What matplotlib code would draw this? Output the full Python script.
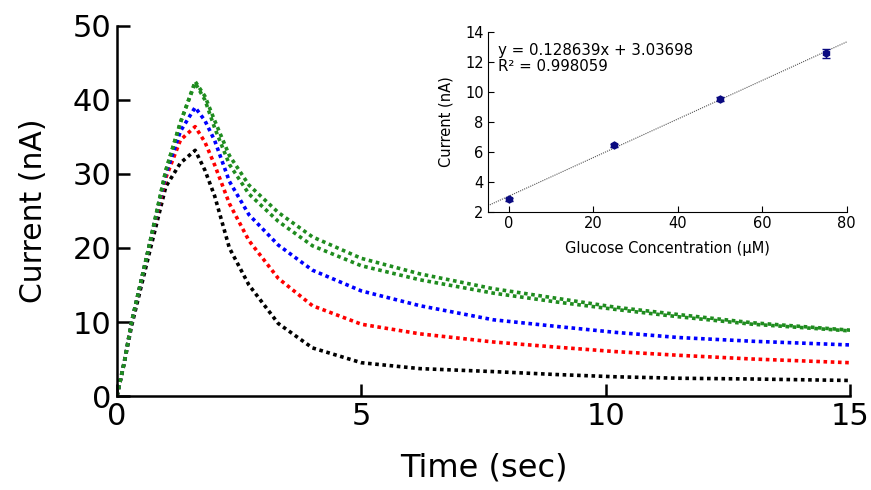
import numpy as np
import matplotlib.pyplot as plt

plt.rcParams['font.family'] = ['DejaVu Sans']

# Chronoamperometric traces (time in s, current in nA)
time_s = [0, 0.15, 0.3, 0.65, 1.0, 1.3, 1.6, 1.8, 2.0, 2.3, 2.7, 3.3,
          4.0, 5.0, 6.2, 7.7, 9.0, 10.2, 11.5, 13.0, 15.0]
black_0uM = [0, 4.5, 9.5, 19.0, 28.3, 31.5, 33.2, 30.5, 27.0, 20.0, 15.0, 9.8,
             6.5, 4.5, 3.7, 3.3, 2.9, 2.6, 2.4, 2.3, 2.1]
red_25uM = [0, 4.6, 10.0, 20.0, 29.5, 34.6, 36.4, 34.3, 31.2, 26.0, 21.0, 15.9,
            12.2, 9.7, 8.4, 7.3, 6.6, 6.0, 5.5, 5.0, 4.5]
blue_50uM = [0, 4.6, 10.0, 20.0, 30.0, 35.8, 39.0, 37.2, 34.5, 29.0, 24.5, 20.4,
             17.0, 14.2, 12.2, 10.3, 9.4, 8.6, 7.9, 7.4, 6.9]
green_75uM_a = [0, 4.6, 10.0, 20.0, 30.5, 37.0, 42.5, 40.5, 37.2, 32.5, 28.5, 24.8,
                21.5, 18.6, 16.5, 14.5, 13.2, 12.0, 11.0, 9.9, 8.9]
green_75uM_b = [0, 4.6, 10.0, 20.0, 30.5, 37.0, 42.3, 40.0, 36.2, 31.3, 27.3, 23.6,
                20.3, 17.6, 15.7, 13.9, 12.7, 11.7, 10.7, 9.7, 8.8]

# Calibration inset
conc_uM = [0, 25, 50, 75]
cal_current = [2.83, 6.43, 9.52, 12.56]
cal_err = [0.1, 0.1, 0.15, 0.3]
slope = 0.128639
intercept = 3.03698
r2 = 0.998059

fig = plt.figure(figsize=(8.71, 4.9), dpi=100)
ax = fig.add_axes([0.1343, 0.1918, 0.8417, 0.7552])

dot = (0, (1, 1))
lw = 2.6
ax.plot(time_s, black_0uM, color='black', linestyle=dot, lw=lw)
ax.plot(time_s, red_25uM, color='#ff0000', linestyle=dot, lw=lw)
ax.plot(time_s, blue_50uM, color='#0000ff', linestyle=dot, lw=lw)
ax.plot(time_s, green_75uM_a, color='#1f8c1f', linestyle=dot, lw=lw)
ax.plot(time_s, green_75uM_b, color='#1f8c1f', linestyle=dot, lw=lw)

ax.set_xlim(0, 15)
ax.set_ylim(0, 50)
ax.set_xticks([0, 5, 10, 15])
ax.set_yticks([0, 10, 20, 30, 40, 50])
ax.spines['top'].set_visible(False)
ax.spines['right'].set_visible(False)
for s in ['left', 'bottom']:
    ax.spines[s].set_linewidth(1.8)
ax.tick_params(direction='in', length=9, width=1.8, labelsize=22, pad=4)
ax.set_xlabel('Time (sec)', fontsize=23, labelpad=16)
ax.set_ylabel('Current (nA)', fontsize=21.5, labelpad=18)

# Inset calibration plot
ins = fig.add_axes([0.560, 0.568, 0.412, 0.367])
xfit = np.array([-5, 80])
ins.plot(xfit, slope * xfit + intercept, color='#555555', linestyle=(0, (1, 1)), lw=0.8)
ins.errorbar(conc_uM, cal_current, yerr=cal_err, fmt='h', color='#0a0a80',
             markersize=5, capsize=3, elinewidth=1, capthick=1)
ins.set_xlim(-5, 80)
ins.set_ylim(2, 14)
ins.set_xticks([0, 20, 40, 60, 80])
ins.set_yticks([2, 4, 6, 8, 10, 12, 14])
ins.spines['top'].set_visible(False)
ins.spines['right'].set_visible(False)
ins.tick_params(direction='in', length=4, labelsize=10.5, pad=3)
ins.set_xlabel('Glucose Concentration (μM)', fontsize=10.5, labelpad=7)
ins.set_ylabel('Current (nA)', fontsize=10.5, labelpad=8)
ins.text(0.028, 0.94, f'y = {slope}x + {intercept}\nR² = {r2}', transform=ins.transAxes,
         fontsize=10.8, va='top', ha='left', linespacing=1.15)

fig.savefig('out.png', dpi=100)
